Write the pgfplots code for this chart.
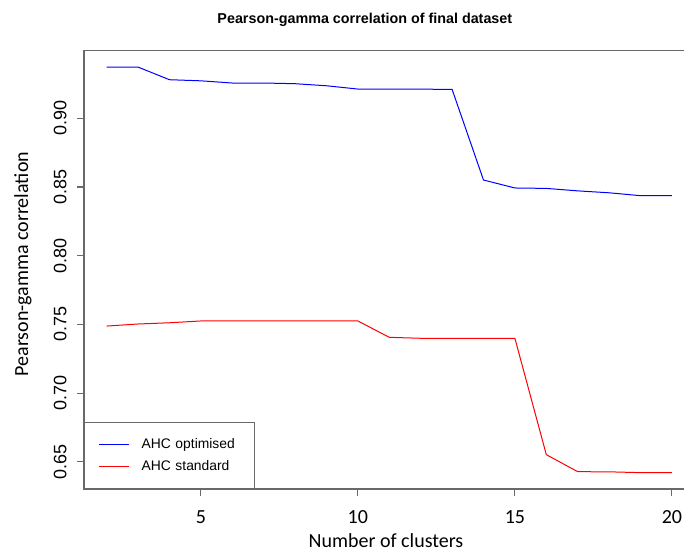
\documentclass[border=0pt]{standalone}
\usepackage{pgfplots}
\pgfplotsset{compat=1.18}
\usepackage{fontspec}
\setmainfont{Liberation Sans}
\newfontfamily\arial{Liberation Sans}
\newfontfamily\calibri{Carlito}
\definecolor{axgray}{RGB}{105,105,105}
\begin{document}
\begin{tikzpicture}
\useasboundingbox (-63pt,-48pt) rectangle (450pt,366.75pt);
\clip (-63pt,-48pt) rectangle (450pt,366.75pt);
\begin{axis}[
  scale only axis,
  width=457.9pt, height=328.7pt,
  at={(0pt,0pt)}, anchor=south west,
  xmin=1.28, xmax=20.72,
  ymin=0.6302, ymax=0.9492,
  axis line style={draw=axgray, line width=0.8pt},
  xtick={5,10,15,20},
  ytick={0.65,0.70,0.75,0.80,0.85,0.90},
  tick align=outside,
  xtick pos=bottom, ytick pos=left,
  major tick length=5.3pt,
  tick style={draw=axgray, line width=0.8pt},
  /pgf/number format/assume math mode=true,
  yticklabel={\pgfmathprintnumber[fixed,fixed zerofill,precision=2]{\tick}},
  xticklabel={\pgfmathprintnumber{\tick}},
  yticklabel style={font=\arial\fontsize{13.5pt}{16pt}\selectfont, xshift=-7.5pt, rotate=90, anchor=south, inner sep=0pt},
  xticklabel style={font=\calibri\fontsize{15pt}{18pt}\selectfont, anchor=base, inner sep=0pt, yshift=-20.5pt},
  every axis title shift=0pt,
  title={Pearson-gamma correlation of final dataset},
  title style={font=\arial\bfseries\fontsize{10.75pt}{13pt}\selectfont, at={(axis description cs:0.460,1.0625)}, anchor=base, inner sep=0pt},
  xlabel={Number of clusters},
  xlabel style={font=\calibri\fontsize{15pt}{18pt}\selectfont, at={(axis description cs:0.4946,-0.133)}, anchor=base, inner sep=0pt},
  ylabel={Pearson-gamma correlation},
  ylabel style={font=\calibri\fontsize{15pt}{18pt}\selectfont, at={(axis description cs:-0.0999,0.513)}, anchor=center, rotate=0, inner sep=0pt},
  legend style={draw=axgray, line width=0.8pt,
    at={(rel axis cs:0,0)}, anchor=south west,
    inner xsep=10.5pt, inner ysep=8pt, row sep=0pt,
    font=\arial\fontsize{10.4pt}{12pt}\selectfont,
    nodes={inner sep=0pt, minimum height=16.8pt, text width=74pt, align=left},
    /tikz/every odd column/.append style={column sep=9.2pt}},
  legend cell align=left,
  legend image code/.code={\draw[#1, line width=0.8pt] (0pt,0pt) -- (22.3pt,0pt);},
  clip=true,
]
\addplot[color=blue, line width=0.75pt] coordinates {
(2,0.9373) (3,0.9373) (4,0.9281) (5,0.9273) (6,0.9257) (7,0.9257) (8,0.9252) (9,0.9237) (10,0.9213) (11,0.9212) (12,0.9212) (13,0.9211) (14,0.8551) (15,0.8493) (16,0.8490) (17,0.8472) (18,0.8458) (19,0.8437) (20,0.8437)
};
\addlegendentry{AHC optimised}
\addplot[color=red, line width=0.75pt] coordinates {
(2,0.7488) (3,0.7503) (4,0.7512) (5,0.7525) (6,0.7525) (7,0.7525) (8,0.7525) (9,0.7525) (10,0.7525) (11,0.7406) (12,0.7399) (13,0.7399) (14,0.7399) (15,0.7399) (16,0.6552) (17,0.6428) (18,0.6427) (19,0.6421) (20,0.6421)
};
\addlegendentry{AHC standard}
\end{axis}
\end{tikzpicture}
\end{document}
